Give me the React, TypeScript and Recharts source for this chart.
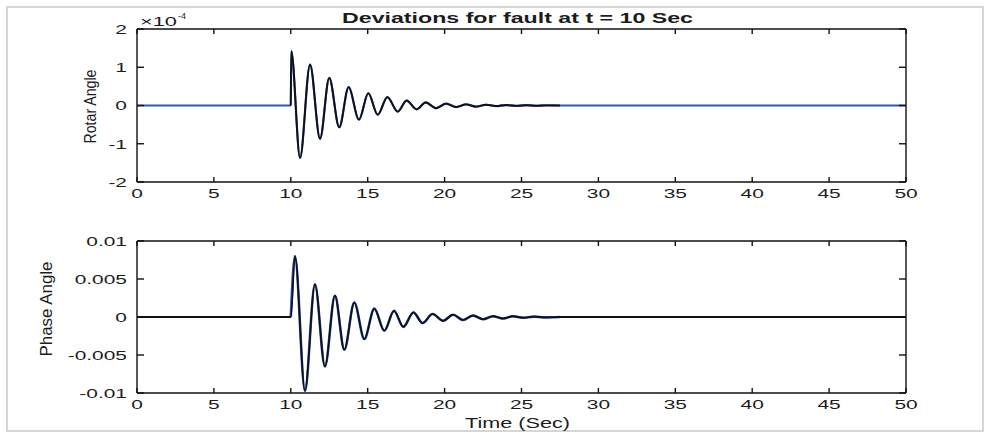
import { Line, LineChart, XAxis, YAxis } from "recharts";

// time axis ticks
const timeTicks = [0, 5, 10, 15, 20, 25, 30, 35, 40, 45, 50];
const rotorTicks = [-2, -1, 0, 1, 2];
const phaseTicks = [-0.01, -0.005, 0, 0.005, 0.01];

// rotor angle deviation (x 1e-4), read at peaks / troughs
const rotorTime = [
  0, 10, 10.03, 10.6, 11.25, 11.9, 12.5, 13.15, 13.76, 14.43, 15.04, 15.65,
  16.28, 16.95, 17.53, 18.18, 18.77, 19.45, 20.1, 20.75, 21.4, 22.05, 22.7,
  23.35, 24.0, 24.65, 25.3, 25.95, 26.6, 27.5, 50
];
const rotorAngle = [
  0, 0, 1.42, -1.37, 1.07, -0.87, 0.72, -0.57, 0.48, -0.37, 0.32, -0.24,
  0.22, -0.16, 0.13, -0.1, 0.08, -0.07, 0.05, -0.04, 0.03, -0.03, 0.02,
  -0.015, 0.012, -0.01, 0.008, -0.006, 0.004, 0, 0
];

// phase angle deviation
const phaseTime = [
  0, 10, 10.27, 10.92, 11.57, 12.22, 12.87, 13.48, 14.13, 14.78, 15.43, 16.08,
  16.71, 17.32, 17.97, 18.57, 19.22, 19.9, 20.55, 21.2, 21.85, 22.5, 23.15,
  23.8, 24.45, 25.1, 25.8, 26.5, 27.5, 50
];
const phaseAngle = [
  0, 0, 0.008, -0.0097, 0.0043, -0.0065, 0.0028, -0.0043, 0.0019, -0.0029,
  0.0011, -0.0018, 0.0008, -0.0013, 0.0006, -0.0008, 0.0004, -0.0005, 0.0003,
  -0.0004, 0.0002, -0.0003, 0.0001, -0.0002, 0.0001, -0.0001, 0.00005,
  -0.00005, 0, 0
];

const rotorData = rotorTime.map((t, i) => ({ t, v: rotorAngle[i] }));
const phaseData = phaseTime.map((t, i) => ({ t, v: phaseAngle[i] }));
const rotorWave = rotorData.filter((d) => d.t >= 10 && d.t <= 27.5);
const phaseWave = phaseData.filter((d) => d.t >= 10 && d.t <= 27.5);

const FONT = "'Liberation Sans', Arial, sans-serif";
const INK = "#1c1c1c";
const BLUE = "#2f55c0";

function XTick({ x, y, payload }: any) {
  return (
    <text
      transform={`translate(${x},${y}) scale(1.55,1)`}
      x={0}
      y={9.8}
      textAnchor="middle"
      fontSize={13.5}
      fontFamily={FONT}
      fill={INK}
    >
      {payload.value}
    </text>
  );
}

function YTick({ x, y, payload }: any) {
  return (
    <text
      transform={`translate(${x},${y}) scale(1.55,1)`}
      x={0}
      y={4.8}
      textAnchor="end"
      fontSize={13.5}
      fontFamily={FONT}
      fill={INK}
    >
      {String(payload.value)}
    </text>
  );
}

const axisStroke = { stroke: "#111", strokeWidth: 1.4 };

function Panel({
  height,
  margin,
  domain,
  ticks,
  children
}: {
  height: number;
  margin: { top: number; right: number; bottom: number; left: number };
  domain: [number, number];
  ticks: number[];
  children: React.ReactNode;
}) {
  return (
    <LineChart width={988} height={height} margin={margin}>
      <XAxis
        dataKey="t"
        type="number"
        domain={[0, 50]}
        ticks={timeTicks}
        allowDataOverflow
        height={30}
        tickSize={-5}
        tickMargin={11}
        axisLine={axisStroke}
        tickLine={axisStroke}
        tick={<XTick />}
        interval={0}
      />
      <XAxis
        xAxisId="top"
        orientation="top"
        dataKey="t"
        type="number"
        domain={[0, 50]}
        ticks={timeTicks}
        allowDataOverflow
        height={1}
        tickSize={-5}
        axisLine={axisStroke}
        tickLine={axisStroke}
        tickFormatter={() => ""}
        interval={0}
      />
      <YAxis
        type="number"
        domain={domain}
        ticks={ticks}
        allowDataOverflow
        width={60}
        tickSize={-7}
        tickMargin={17}
        axisLine={axisStroke}
        tickLine={axisStroke}
        tick={<YTick />}
        interval={0}
      />
      <YAxis
        yAxisId="right"
        orientation="right"
        type="number"
        domain={domain}
        ticks={ticks}
        allowDataOverflow
        width={1}
        tickSize={-7}
        axisLine={axisStroke}
        tickLine={axisStroke}
        tickFormatter={() => ""}
        interval={0}
      />
      {children}
    </LineChart>
  );
}

export default function App() {
  return (
    <div
      style={{
        position: "absolute",
        left: 0,
        top: 0,
        width: 988,
        height: 434,
        background: "#fff"
      }}
    >
      <Panel
        height={214}
        margin={{ top: 28, right: 81, bottom: 2, left: 77 }}
        domain={[-2, 2]}
        ticks={rotorTicks}
      >
        <Line
          data={rotorData}
          dataKey="v"
          type="monotone"
          dot={false}
          stroke={BLUE}
          strokeWidth={2.2}
          isAnimationActive={false}
        />
        <Line
          data={rotorWave}
          dataKey="v"
          type="monotone"
          dot={false}
          stroke="#111"
          strokeWidth={1.9}
          isAnimationActive={false}
        />
      </Panel>
      <Panel
        height={220}
        margin={{ top: 26, right: 81, bottom: 11, left: 77 }}
        domain={[-0.01, 0.01]}
        ticks={phaseTicks}
      >
        <Line
          data={phaseWave}
          dataKey="v"
          type="monotone"
          dot={false}
          stroke={BLUE}
          strokeWidth={2.6}
          isAnimationActive={false}
        />
        <Line
          data={phaseData}
          dataKey="v"
          type="monotone"
          dot={false}
          stroke="#111"
          strokeWidth={1.8}
          isAnimationActive={false}
        />
      </Panel>
      <svg
        width={988}
        height={434}
        style={{ position: "absolute", left: 0, top: 0, pointerEvents: "none" }}
        fontFamily={FONT}
        fill={INK}
      >
        <rect x={7} y={7} width={976} height={424} fill="none" stroke="#d6d6d6" strokeWidth={2} />
        <text
          x={517.5}
          y={23}
          textAnchor="middle"
          fontSize={15.5}
          fontWeight="bold"
          textLength={351}
          lengthAdjust="spacingAndGlyphs"
        >
          Deviations for fault at t = 10 Sec
        </text>
        <text x={140} y={26} fontSize={12.5} textLength={37} lengthAdjust="spacingAndGlyphs">
          ×10
        </text>
        <text x={178} y={19} fontSize={9}>
          -4
        </text>
        <text
          transform="translate(96,106.5) rotate(-90)"
          textAnchor="middle"
          fontSize={16}
          textLength={74}
          lengthAdjust="spacingAndGlyphs"
        >
          Rotar Angle
        </text>
        <text
          transform="translate(52,309) rotate(-90)"
          textAnchor="middle"
          fontSize={16}
          textLength={95}
          lengthAdjust="spacingAndGlyphs"
        >
          Phase Angle
        </text>
        <text
          x={517.5}
          y={428}
          textAnchor="middle"
          fontSize={14.5}
          textLength={105}
          lengthAdjust="spacingAndGlyphs"
        >
          Time (Sec)
        </text>
      </svg>
    </div>
  );
}
